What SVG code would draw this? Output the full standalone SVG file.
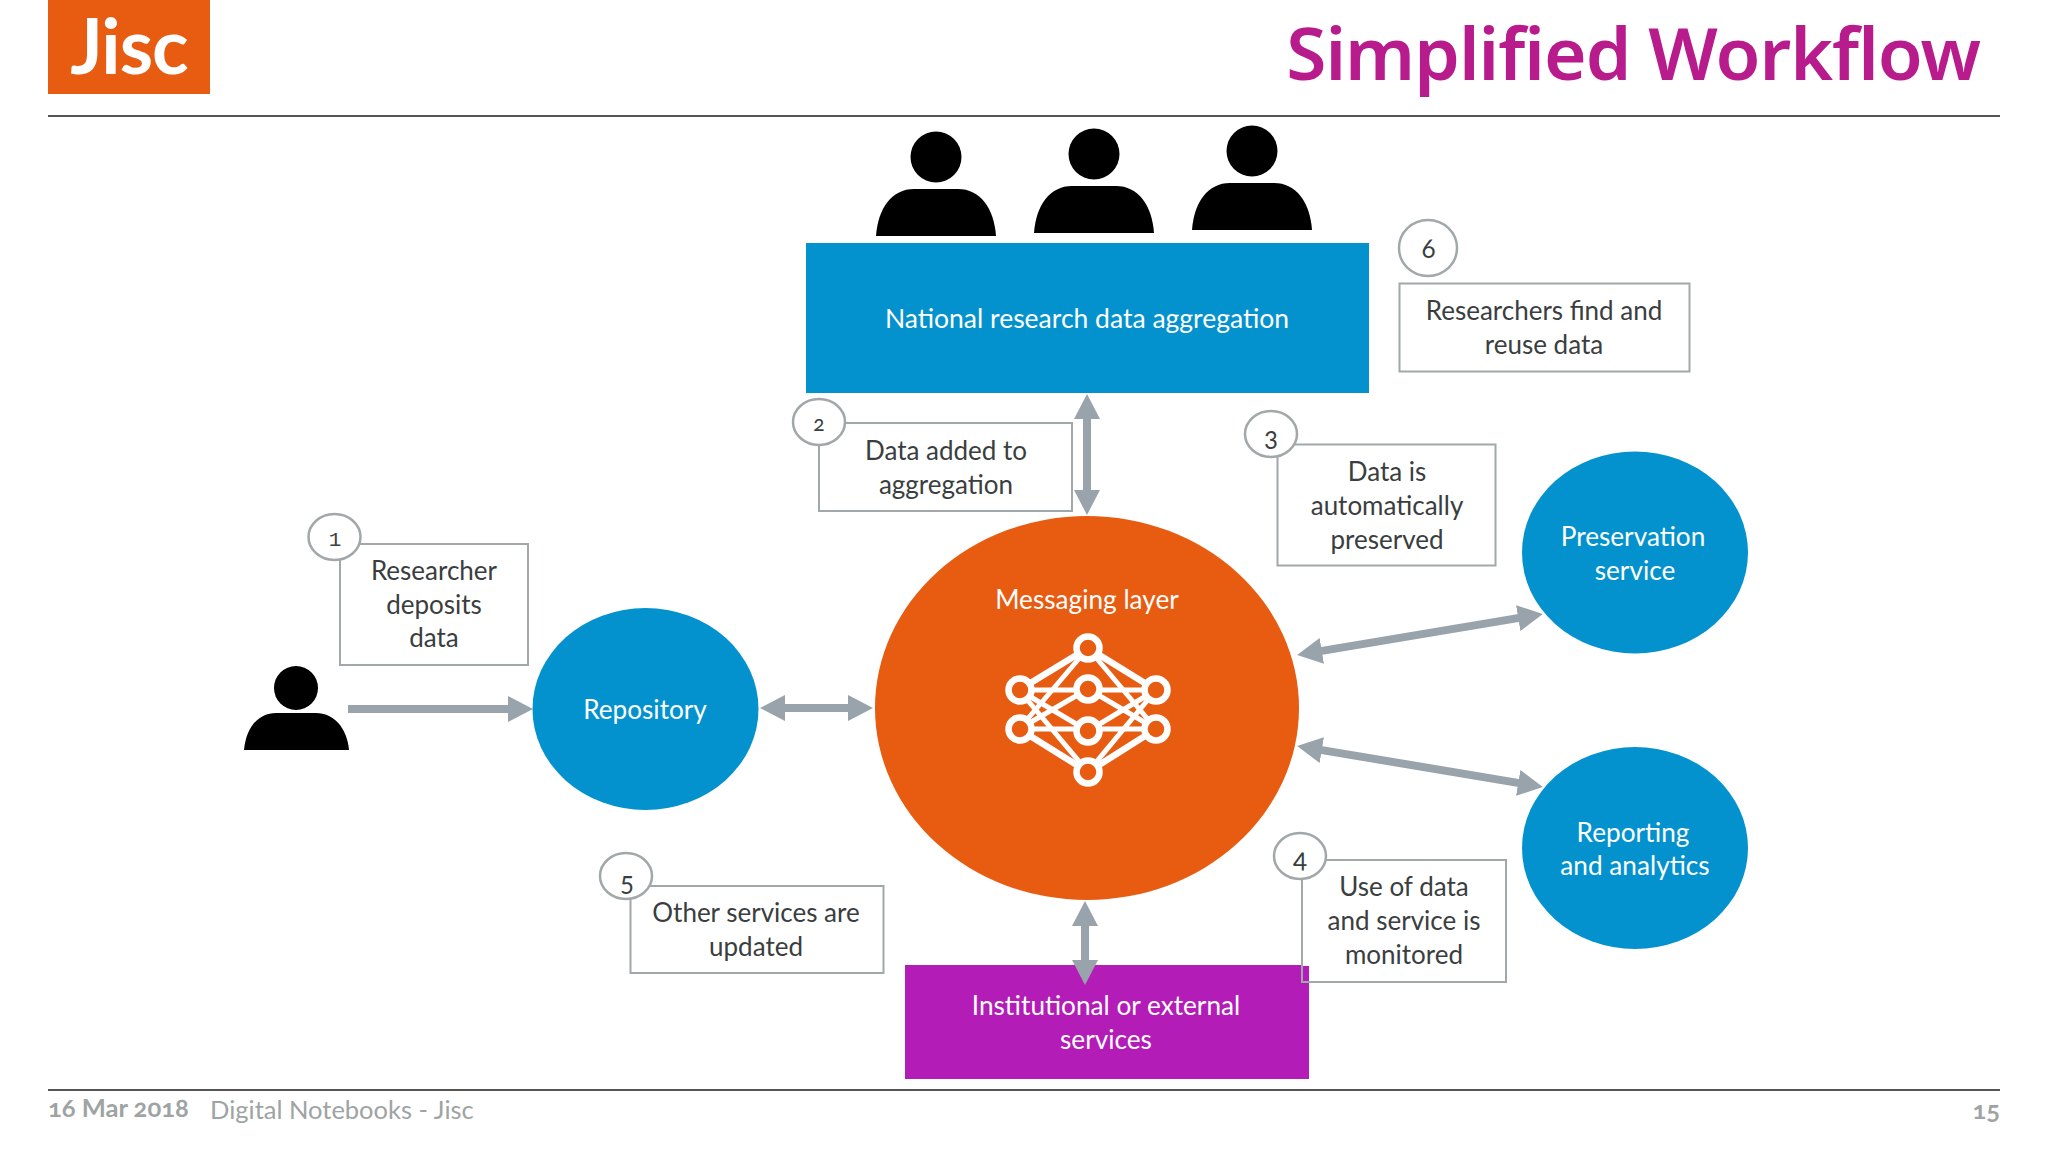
<svg xmlns="http://www.w3.org/2000/svg" width="2048" height="1152" viewBox="0 0 2048 1152">
<style>
text{font-family:"Lato","Open Sans","Liberation Sans",sans-serif;font-variant-numeric:oldstyle-nums}
.w{fill:#fff;font-size:26.2px;text-anchor:middle}
.d{fill:#3a3e40;font-size:26px;text-anchor:middle}
.box{fill:#fff;stroke:#a2a7a9;stroke-width:2}
.num{fill:#fff;stroke:#a2a7a9;stroke-width:2.5}
.n{fill:#3a3e40;font-size:26px;text-anchor:middle}
.s{font-size:21px}
.blue{fill:#0392ce}
.per{fill:#000}
.conn line{stroke:#99a3ab;stroke-width:8;marker-start:url(#ah);marker-end:url(#ah)}
.icon line{stroke:#fff;stroke-width:5}
.icon .o{stroke-width:6.5}
.icon circle{fill:#e85c12;stroke:#fff;stroke-width:6.5;r:11.5px}
.foot{fill:#9ea3a3;font-size:25.5px}
</style>
<defs>
<marker id="ah" markerUnits="userSpaceOnUse" viewBox="0 0 25 26" markerWidth="25" markerHeight="26" refX="15" refY="13" orient="auto-start-reverse"><path d="M0 0L25 13L0 26Z" fill="#99a3ab"/></marker>
<marker id="ae" markerUnits="userSpaceOnUse" viewBox="0 0 25 26" markerWidth="25" markerHeight="26" refX="15" refY="13" orient="auto"><path d="M0 0L25 13L0 26Z" fill="#99a3ab"/></marker>
<g id="person"><circle cx="0" cy="-79" r="25.5"/><path d="M-60 0C-58 -28 -44 -47 -22 -47L22 -47C44 -47 58 -28 60 0Z"/></g>
</defs>
<rect width="2048" height="1152" fill="#fff"/>
<g id="header">
<rect x="48" y="0" width="162" height="94" fill="#e85c12"/>
<text x="129" y="74" text-anchor="middle" style="font-family:'Lato',sans-serif;font-size:76px;font-weight:700;letter-spacing:-1px" fill="#fff">Jisc</text>
<text x="1980" y="80" text-anchor="end" style="font-family:'Noto Sans',sans-serif;font-size:73px;font-weight:600;letter-spacing:-1px" fill="#b81c8c">Simplified Workflow</text>
<line x1="48" y1="116" x2="2000" y2="116" stroke="#555" stroke-width="2"/>
</g>
<g id="footer">
<line x1="48" y1="1090" x2="2000" y2="1090" stroke="#555" stroke-width="2"/>
<text x="48" y="1117" class="foot" style="font-weight:700">16 Mar 2018</text>
<text x="210" y="1119" class="foot">Digital Notebooks - Jisc</text>
<text x="2000" y="1119" class="foot" text-anchor="end" style="font-weight:700">15</text>
</g>
<g id="researchers-top" class="per">
<use href="#person" transform="translate(936,236)"/>
<use href="#person" transform="translate(1094,233)"/>
<use href="#person" transform="translate(1252,230)"/>
</g>
<g id="researcher-left" class="per">
<circle cx="296" cy="688" r="22"/>
<path d="M244 750C246 728 258 713 276 713L316 713C334 713 347 728 349 750Z"/>
</g>
<g id="national"><rect x="806" y="243" width="563" height="150" class="blue"/><text x="1087" y="328" class="w" style="font-size:26.5px">National research data aggregation</text></g>
<g id="repository"><ellipse cx="645.500" cy="709" rx="113" ry="101" class="blue"/><text x="645" y="719" class="w">Repository</text></g>
<g id="messaging">
<ellipse cx="1087" cy="708" rx="212" ry="192" fill="#e85c12"/>
<text x="1087" y="609" class="w">Messaging layer</text>
<g class="icon">
<line class="o" x1="1088" y1="648" x2="1019" y2="690"/><line class="o" x1="1088" y1="648" x2="1156" y2="690"/>
<line class="o" x1="1088" y1="772" x2="1019" y2="729"/><line class="o" x1="1088" y1="772" x2="1156" y2="729"/>
<line x1="1088" y1="648" x2="1019" y2="729"/><line x1="1088" y1="648" x2="1156" y2="729"/>
<line x1="1088" y1="772" x2="1019" y2="690"/><line x1="1088" y1="772" x2="1156" y2="690"/>
<line x1="1019" y1="690" x2="1156" y2="690"/><line x1="1019" y1="729" x2="1156" y2="729"/>
<line x1="1019" y1="690" x2="1088" y2="731"/><line x1="1156" y1="690" x2="1088" y2="731"/>
<line x1="1019" y1="729" x2="1088" y2="689"/><line x1="1156" y1="729" x2="1088" y2="689"/>
<circle cx="1088" cy="648"/><circle cx="1020" cy="690"/><circle cx="1020" cy="729"/><circle cx="1088" cy="689"/><circle cx="1088" cy="731"/><circle cx="1156" cy="690"/><circle cx="1156" cy="729"/><circle cx="1088" cy="772"/>
</g>
</g>
<g id="preservation"><ellipse cx="1635" cy="552.500" rx="113" ry="101" class="blue"/><text x="1633" y="546" class="w">Preservation</text><text x="1635" y="580" class="w">service</text></g>
<g id="reporting"><ellipse cx="1635" cy="848" rx="113" ry="101" class="blue"/><text x="1633" y="842" class="w">Reporting</text><text x="1635" y="875" class="w">and analytics</text></g>
<g id="institutional"><rect x="905" y="965" width="404" height="114" fill="#b41cb8"/><text x="1106" y="1015" class="w">Institutional or external</text><text x="1106" y="1049" class="w">services</text></g>
<g id="step1"><rect x="340" y="544" width="188" height="121" class="box"/><ellipse cx="334.500" cy="537" rx="26" ry="23" class="num"/><text x="335" y="546" class="n" style="font-family:'Liberation Mono',monospace;font-size:21px">1</text><text x="434" y="580" class="d">Researcher</text><text x="434" y="614" class="d">deposits</text><text x="434" y="647" class="d">data</text></g>
<g id="step2"><rect x="819" y="423" width="253" height="88" class="box"/><ellipse cx="819" cy="422" rx="26" ry="23" class="num"/><text x="819" y="431" class="n s">2</text><text x="946" y="460" class="d">Data added to</text><text x="946" y="494" class="d">aggregation</text></g>
<g id="step3"><rect x="1277.500" y="444.500" width="218" height="121" class="box"/><ellipse cx="1271" cy="434" rx="26" ry="23" class="num"/><text x="1271" y="446" class="n">3</text><text x="1387" y="481" class="d">Data is</text><text x="1387" y="515" class="d">automatically</text><text x="1387" y="549" class="d">preserved</text></g>
<g id="step4"><rect x="1302" y="860" width="204" height="122" class="box" style="fill:none"/><path d="M1303 861H1505V981H1310V966H1303Z" fill="#fff"/><ellipse cx="1300" cy="856" rx="26" ry="23" class="num"/><text x="1300" y="868" class="n">4</text><text x="1404" y="896" class="d">Use of data</text><text x="1404" y="930" class="d">and service is</text><text x="1404" y="964" class="d">monitored</text></g>
<g id="step5"><rect x="630.500" y="886" width="253" height="87" class="box"/><ellipse cx="626" cy="876" rx="26" ry="23" class="num"/><text x="627" y="891" class="n">5</text><text x="756" y="922" class="d">Other services are</text><text x="756" y="956" class="d">updated</text></g>
<g id="step6"><rect x="1399.500" y="283.500" width="290" height="88" class="box"/><ellipse cx="1428" cy="248" rx="29" ry="28" class="num"/><text x="1428.500" y="258" class="n">6</text><text x="1544" y="320" class="d">Researchers find and</text><text x="1544" y="354" class="d">reuse data</text></g>
<g id="connectors" class="conn">
<line x1="348" y1="709" x2="523" y2="709" style="marker-start:none;marker-end:url(#ae)"/>
<line x1="770" y1="708" x2="863" y2="708"/>
<line x1="1087" y1="404" x2="1087" y2="505"/>
<line x1="1085" y1="911" x2="1085" y2="975"/>
<line x1="1307" y1="653.400" x2="1533" y2="615.600"/>
<line x1="1307" y1="747.600" x2="1533" y2="785.400"/>
</g>
</svg>
